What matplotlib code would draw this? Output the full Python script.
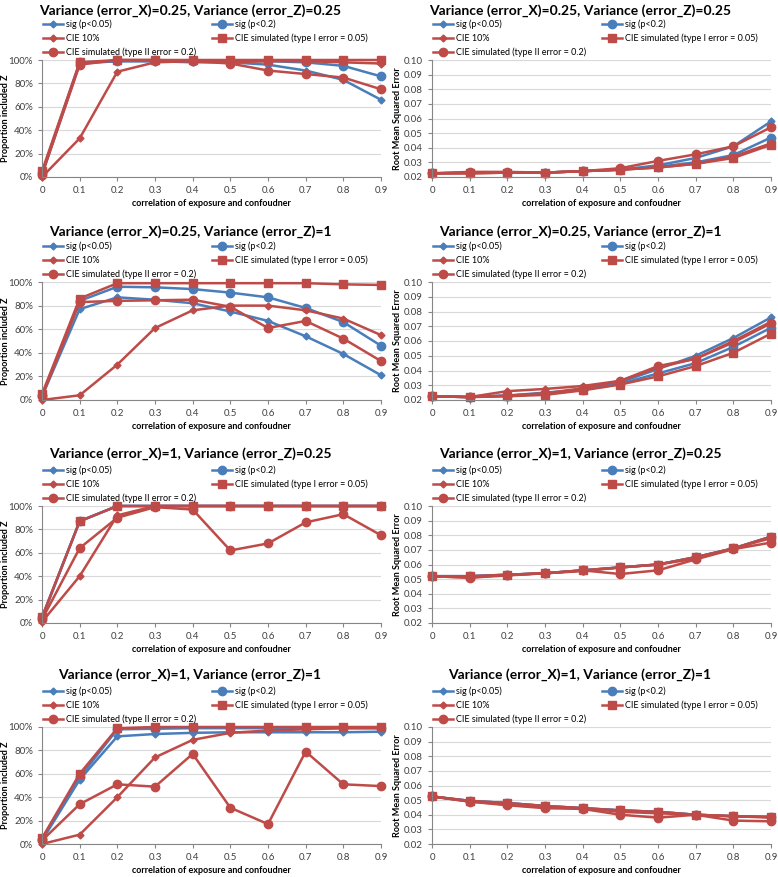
import numpy as np
import matplotlib
matplotlib.use("Agg")
import matplotlib.pyplot as plt
from matplotlib.ticker import FuncFormatter

plt.rcParams['font.family'] = ['Lato', 'DejaVu Sans']

x = [0, 0.1, 0.2, 0.3, 0.4, 0.5, 0.6, 0.7, 0.8, 0.9]
names = ['sig (p<0.05)', 'sig (p<0.2)', 'CIE 10%',
         'CIE simulated (type I error = 0.05)', 'CIE simulated (type II error = 0.2)']

titles = ['Variance (error_X)=0.25, Variance (error_Z)=0.25',
          'Variance (error_X)=0.25, Variance (error_Z)=1',
          'Variance (error_X)=1, Variance (error_Z)=0.25',
          'Variance (error_X)=1, Variance (error_Z)=1']

# proportion included Z, one list per series
prop_1 = [
    [0.02, 0.97, 0.99, 0.99, 0.98, 0.98, 0.96, 0.91, 0.83, 0.66],
    [0.03, 0.98, 0.99, 0.99, 0.99, 0.99, 0.99, 0.98, 0.95, 0.86],
    [0.00, 0.33, 0.90, 0.98, 0.99, 0.98, 0.99, 0.99, 0.98, 0.97],
    [0.05, 0.98, 1.00, 1.00, 1.00, 1.00, 1.00, 1.00, 1.00, 1.00],
    [0.02, 0.96, 1.00, 1.00, 0.99, 0.97, 0.91, 0.88, 0.85, 0.75],
]
prop_2 = [
    [0.03, 0.77, 0.87, 0.85, 0.82, 0.75, 0.67, 0.54, 0.39, 0.21],
    [0.04, 0.84, 0.96, 0.955, 0.94, 0.91, 0.87, 0.78, 0.66, 0.46],
    [0.00, 0.04, 0.30, 0.61, 0.76, 0.80, 0.80, 0.76, 0.69, 0.55],
    [0.05, 0.86, 0.99, 0.99, 0.99, 0.99, 0.99, 0.99, 0.98, 0.975],
    [0.03, 0.83, 0.84, 0.845, 0.85, 0.79, 0.61, 0.67, 0.52, 0.33],
]
prop_3 = [
    [0.04, 0.87, 1.00, 1.00, 1.00, 1.00, 1.00, 1.00, 1.00, 1.00],
    [0.05, 0.87, 1.00, 1.00, 1.00, 1.00, 1.00, 1.00, 1.00, 1.00],
    [0.01, 0.40, 0.92, 1.00, 1.00, 1.00, 1.00, 1.00, 1.00, 1.00],
    [0.05, 0.87, 1.00, 1.00, 1.00, 1.00, 1.00, 1.00, 1.00, 1.00],
    [0.03, 0.64, 0.90, 0.99, 0.97, 0.62, 0.68, 0.86, 0.93, 0.75],
]
prop_4 = [
    [0.03, 0.55, 0.92, 0.94, 0.95, 0.955, 0.955, 0.955, 0.955, 0.96],
    [0.04, 0.57, 0.98, 0.985, 0.99, 0.99, 0.99, 0.99, 0.99, 0.99],
    [0.00, 0.08, 0.40, 0.74, 0.89, 0.95, 0.97, 0.98, 0.99, 0.99],
    [0.05, 0.60, 0.99, 1.00, 1.00, 1.00, 1.00, 1.00, 1.00, 1.00],
    [0.03, 0.34, 0.51, 0.49, 0.77, 0.31, 0.17, 0.79, 0.51, 0.495],
]

# root mean squared error
rmse_1 = [
    [0.0225, 0.023, 0.023, 0.023, 0.024, 0.025, 0.028, 0.033, 0.041, 0.058],
    [0.0225, 0.023, 0.023, 0.023, 0.024, 0.025, 0.027, 0.030, 0.035, 0.047],
    [0.0225, 0.0225, 0.023, 0.023, 0.024, 0.025, 0.0265, 0.029, 0.034, 0.043],
    [0.0225, 0.0225, 0.023, 0.023, 0.024, 0.025, 0.0265, 0.029, 0.033, 0.042],
    [0.0225, 0.0235, 0.0235, 0.023, 0.024, 0.026, 0.031, 0.0355, 0.041, 0.054],
]
rmse_2 = [
    [0.0225, 0.022, 0.023, 0.025, 0.027, 0.032, 0.041, 0.050, 0.062, 0.076],
    [0.0225, 0.022, 0.023, 0.024, 0.027, 0.031, 0.038, 0.045, 0.056, 0.069],
    [0.0225, 0.022, 0.026, 0.0275, 0.0295, 0.033, 0.042, 0.048, 0.060, 0.073],
    [0.0225, 0.022, 0.0225, 0.0235, 0.0265, 0.0305, 0.036, 0.043, 0.052, 0.065],
    [0.0225, 0.022, 0.023, 0.0245, 0.028, 0.033, 0.043, 0.048, 0.059, 0.072],
]
rmse_3 = [
    [0.052, 0.052, 0.053, 0.054, 0.056, 0.058, 0.060, 0.065, 0.071, 0.079],
    [0.052, 0.052, 0.053, 0.054, 0.056, 0.058, 0.060, 0.065, 0.071, 0.079],
    [0.052, 0.051, 0.0525, 0.054, 0.0555, 0.058, 0.060, 0.064, 0.071, 0.078],
    [0.052, 0.052, 0.053, 0.054, 0.056, 0.058, 0.060, 0.065, 0.071, 0.079],
    [0.052, 0.051, 0.053, 0.054, 0.056, 0.0535, 0.056, 0.0635, 0.0705, 0.075],
]
rmse_4 = [
    [0.0525, 0.0495, 0.048, 0.046, 0.0445, 0.043, 0.042, 0.040, 0.039, 0.0385],
    [0.0525, 0.0495, 0.048, 0.046, 0.0445, 0.043, 0.042, 0.040, 0.039, 0.0385],
    [0.0525, 0.049, 0.047, 0.045, 0.0445, 0.042, 0.041, 0.040, 0.039, 0.038],
    [0.0525, 0.0495, 0.048, 0.046, 0.0445, 0.043, 0.042, 0.040, 0.039, 0.0385],
    [0.0525, 0.049, 0.0465, 0.0445, 0.044, 0.040, 0.038, 0.040, 0.036, 0.0355],
]

props = [prop_1, prop_2, prop_3, prop_4]
rmses = [rmse_1, rmse_2, rmse_3, rmse_4]

BLUE = '#4A7EBB'
RED = '#BE4B48'
styles = [(BLUE, 'D', 3.5), (BLUE, 'o', 6), (RED, 'D', 3.5), (RED, 's', 6), (RED, 'o', 6)]

W, H = 778, 877
fig = plt.figure(figsize=(W / 100, H / 100), dpi=100)

# plot area boxes in pixels: top, bottom
rows_px = [(60, 177), (282, 400), (506, 623), (727, 844)]
title_y = [11, 232, 454, 675]
cols_px = [(42, 381), (432, 771)]
ylab_x = [5, 397]   # centre of y label, pixels


def draw_panel(ax, series, is_prop, lab_x):
    lines = []
    for vals, (c, m, ms) in zip(series, styles):
        ln, = ax.plot(x, vals, color=c, marker=m, markersize=ms, lw=1.8,
                      markeredgecolor=c, clip_on=False)
        lines.append(ln)
    ax.set_xlim(0, 0.9)
    ax.set_xticks(x)
    ax.set_xticklabels(['0'] + ['%.1f' % v for v in x[1:]])
    if is_prop:
        ax.set_ylim(0, 1)
        ax.set_yticks(np.arange(0, 1.01, 0.2))
        ax.yaxis.set_major_formatter(FuncFormatter(lambda v, p: '%d%%' % round(v * 100)))
        ax.set_ylabel('Proportion included Z', fontsize=6.5, fontweight='bold')
    else:
        ax.set_ylim(0.02, 0.10)
        ax.set_yticks(np.arange(0.02, 0.1001, 0.01))
        ax.yaxis.set_major_formatter(FuncFormatter(lambda v, p: '%.2f' % v))
        ax.set_ylabel('Root Mean Squared Error', fontsize=6.5, fontweight='bold')
    ax.yaxis.set_label_coords(lab_x, 0.5)
    ax.yaxis.label.set_va('center')
    ax.set_xlabel('correlation of exposure and confoudner', fontsize=6.5,
                  fontweight='bold', labelpad=3)
    ax.grid(axis='y', color='#D9D9D9', lw=0.8)
    ax.set_axisbelow(True)
    for s in ['top', 'right']:
        ax.spines[s].set_visible(False)
    for s in ['left', 'bottom']:
        ax.spines[s].set_color('#868686')
        ax.spines[s].set_linewidth(0.8)
    ax.tick_params(labelsize=7, length=3, color='#868686', colors='#404040')
    order = [0, 2, 4, 1, 3]
    ax.legend([lines[i] for i in order], [names[i] for i in order], ncol=2,
              loc='lower left', bbox_to_anchor=(-0.005, 1.0), frameon=False,
              fontsize=6.5, handlelength=2.2, handletextpad=0.3,
              columnspacing=1.8, labelspacing=0.55, borderaxespad=0.2,
              borderpad=0.1)


for r in range(4):
    top, bot = rows_px[r]
    for c in range(2):
        l, rgt = cols_px[c]
        ax = fig.add_axes([l / W, 1 - bot / H, (rgt - l) / W, (bot - top) / H])
        data = props[r] if c == 0 else rmses[r]
        draw_panel(ax, data, c == 0, (ylab_x[c] - l) / (rgt - l))
        fig.text((c * 390 + 190) / W, 1 - title_y[r] / H, titles[r],
                 ha='center', va='center', fontsize=10, fontweight='bold')

fig.savefig('out.png', dpi=100)
